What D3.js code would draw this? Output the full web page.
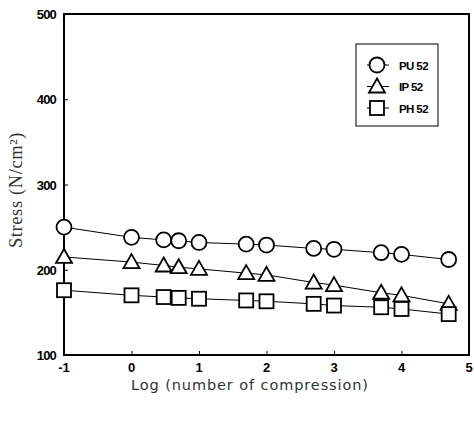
<!DOCTYPE html>
<html>
<head>
<meta charset="utf-8">
<script src="https://cdn.jsdelivr.net/npm/d3@7"></script>
<style>
  body { margin: 0; background: #fff; }
  svg { display: block; }
</style>
</head>
<body>
<svg></svg>
<script>
// log of compression count
const logN = [-1, 0, 0.477, 0.699, 1, 1.699, 2, 2.699, 3, 3.699, 4, 4.699];
const pu52 = [250, 238, 235, 234, 232, 230, 229, 225, 224, 220, 218, 212];
const ip52 = [215, 209, 205, 203, 201, 196, 194, 185, 182, 173, 170, 160];
const ph52 = [176, 170, 168, 167, 166, 164, 163, 160, 158, 156, 154, 148];
const seriesNames = ['PU 52', 'IP 52', 'PH 52'];
const xTicks = [-1, 0, 1, 2, 3, 4, 5];
const yTicks = [100, 200, 300, 400, 500];

const W = 474, H = 421;
const svg = d3.select('svg').attr('width', W).attr('height', H);

const x = d3.scaleLinear().domain([-1, 5]).range([64, 469]);
const y = d3.scaleLinear().domain([100, 500]).range([355, 14]);

const series = [
  { name: seriesNames[0], vals: pu52, shape: 'circle' },
  { name: seriesNames[1], vals: ip52, shape: 'triangle' },
  { name: seriesNames[2], vals: ph52, shape: 'square' }
];

// frame
svg.append('rect')
  .attr('x', x(-1)).attr('y', y(500))
  .attr('width', x(5) - x(-1)).attr('height', y(100) - y(500))
  .attr('fill', 'none').attr('stroke', '#000').attr('stroke-width', 2);

// axes, ticks inward
const xAxis = svg.append('g').attr('transform', `translate(0,${y(100)})`)
  .call(d3.axisTop(x).tickValues(xTicks).tickSize(4).tickFormat(''));
xAxis.select('.domain').remove();
xAxis.selectAll('line').attr('stroke', '#000');

svg.append('g').selectAll('text').data(xTicks).enter().append('text')
  .attr('x', d => x(d)).attr('y', y(100) + 17)
  .attr('text-anchor', 'middle')
  .attr('font-family', 'Liberation Sans, Arial, sans-serif')
  .attr('font-weight', 'bold').attr('font-size', '13px')
  .text(d => d);

const yAxis = svg.append('g').attr('transform', `translate(${x(-1)},0)`)
  .call(d3.axisRight(y).tickValues(yTicks).tickSize(4).tickFormat(''));
yAxis.select('.domain').remove();
yAxis.selectAll('line').attr('stroke', '#000');

svg.append('g').selectAll('text').data(yTicks).enter().append('text')
  .attr('x', x(-1) - 8).attr('y', d => y(d) + 5)
  .attr('text-anchor', 'end')
  .attr('font-family', 'Liberation Sans, Arial, sans-serif')
  .attr('font-weight', 'bold').attr('font-size', '13px')
  .attr('letter-spacing', '-0.8px')
  .text(d => d);

// axis titles
svg.append('text')
  .attr('x', 250).attr('y', 390)
  .attr('text-anchor', 'middle')
  .attr('font-family', 'DejaVu Sans, sans-serif')
  .attr('font-size', '14.5px').attr('letter-spacing', '0.9px')
  .attr('fill', '#333')
  .text('Log (number of compression)');

svg.append('text')
  .attr('transform', 'translate(22,190) rotate(-90)')
  .attr('text-anchor', 'middle')
  .attr('font-family', 'Liberation Serif, Times New Roman, serif')
  .attr('font-size', '18.5px').attr('letter-spacing', '0.6px')
  .attr('fill', '#333')
  .text('Stress (N/cm²)');

// marker drawing
function drawMarker(g, shape, cx, cy) {
  const common = s => s.attr('fill', '#fff').attr('stroke', '#000').attr('stroke-width', 1.8);
  if (shape === 'circle') {
    g.append('circle').attr('cx', cx).attr('cy', cy).attr('r', 7.5).call(common);
  } else if (shape === 'triangle') {
    g.append('path')
      .attr('d', `M${cx},${cy - 8}L${cx + 8},${cy + 6}L${cx - 8},${cy + 6}Z`)
      .call(common);
  } else {
    g.append('rect').attr('x', cx - 7).attr('y', cy - 7)
      .attr('width', 14).attr('height', 14).call(common);
  }
}

const line = d3.line().x(d => x(d[0])).y(d => y(d[1]));

series.forEach(s => {
  const pts = logN.map((v, i) => [v, s.vals[i]]);
  svg.append('path').datum(pts)
    .attr('d', line)
    .attr('fill', 'none').attr('stroke', '#000').attr('stroke-width', 1);
});

series.forEach(s => {
  const g = svg.append('g');
  logN.forEach((v, i) => drawMarker(g, s.shape, x(v), y(s.vals[i])));
});

// legend
const lg = svg.append('g');
lg.append('rect')
  .attr('x', 356).attr('y', 44).attr('width', 82).attr('height', 82)
  .attr('fill', '#fff').attr('stroke', '#000').attr('stroke-width', 1);
series.forEach((s, i) => {
  const cy = 65 + i * 21.5;
  lg.append('line').attr('x1', 367).attr('x2', 389).attr('y1', cy).attr('y2', cy)
    .attr('stroke', '#000').attr('stroke-width', 1);
  drawMarker(lg, s.shape, 377, cy);
  lg.append('text')
    .attr('x', 399).attr('y', cy + 4.5)
    .attr('font-family', 'Liberation Sans, Arial, sans-serif')
    .attr('font-weight', 'bold').attr('font-size', '11.5px')
    .attr('letter-spacing', '-0.6px')
    .text(s.name);
});
</script>
</body>
</html>
